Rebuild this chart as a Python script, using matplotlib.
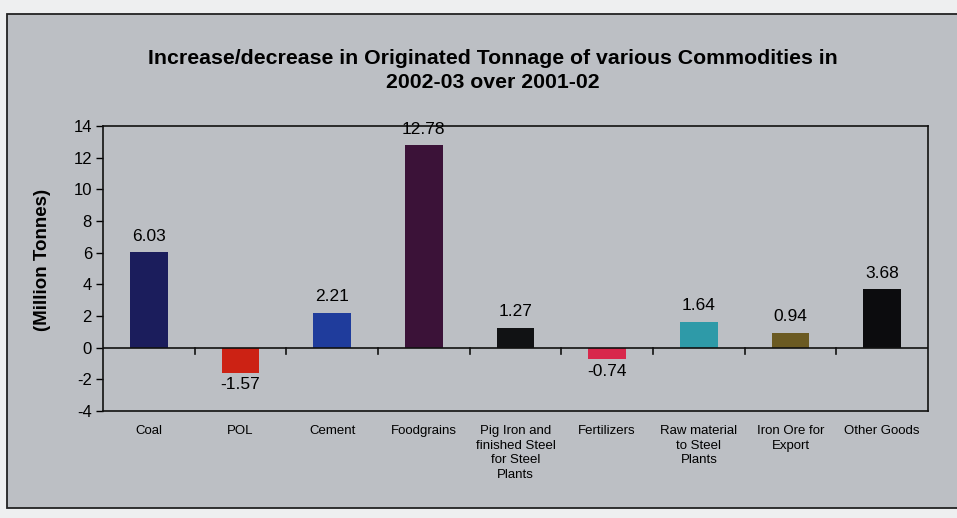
import matplotlib
matplotlib.use("Agg")
import matplotlib.pyplot as plt
from matplotlib.patches import Rectangle

categories = ["Coal", "POL", "Cement", "Foodgrains",
              "Pig Iron and\nfinished Steel\nfor Steel\nPlants",
              "Fertilizers", "Raw material\nto Steel\nPlants",
              "Iron Ore for\nExport", "Other Goods"]
values = [6.03, -1.57, 2.21, 12.78, 1.27, -0.74, 1.64, 0.94, 3.68]
value_labels = ["6.03", "-1.57", "2.21", "12.78", "1.27", "-0.74", "1.64", "0.94", "3.68"]
colors = ["#1b1d5c", "#cc2214", "#1f3c9c", "#3b1238", "#111214",
          "#d8284c", "#2e9aa8", "#6b5a22", "#0c0c0e"]
yticks = [-4, -2, 0, 2, 4, 6, 8, 10, 12, 14]

W, H = 957, 518
bg = "#bcbfc4"
fig = plt.figure(figsize=(W / 100, H / 100), dpi=100, facecolor="#eeeff0")

# gray panel with dark frame
panel = Rectangle((7 / W, 1 - 508 / H), 1.2, (508 - 14) / H,
                  transform=fig.transFigure, facecolor=bg,
                  edgecolor="#222222", linewidth=1.3, zorder=-10)
fig.add_artist(panel)

ax = fig.add_axes([103 / W, 1 - 411 / H, (928 - 103) / W, (411 - 126) / H])
ax.set_zorder(5)
ax.set_facecolor(bg)

x = list(range(len(categories)))
ax.bar(x, values, width=0.41, color=colors, zorder=2)
ax.set_xlim(-0.5, len(categories) - 0.5)
ax.set_ylim(-4, 14)
ax.set_yticks(yticks)
ax.set_yticklabels([str(t) for t in yticks], fontsize=12, family="Liberation Sans")
ax.tick_params(axis="y", direction="out", length=5, width=1, pad=3)
ax.set_xticks([])
for s in ax.spines.values():
    s.set_linewidth(1.2)
    s.set_color("#111111")

ax.axhline(0, color="#111111", linewidth=1.2, zorder=3)
for b in range(1, len(categories)):
    ax.plot([b - 0.5, b - 0.5], [0, -0.4], color="#111111", linewidth=1.2,
            zorder=3, clip_on=False)

for xi, v, lab in zip(x, values, value_labels):
    if v >= 0:
        ax.annotate(lab, (xi, v), xytext=(0, 6), textcoords="offset points",
                    ha="center", va="bottom", fontsize=12.5, family="Liberation Sans")
    else:
        ax.annotate(lab, (xi, v), xytext=(0, -3), textcoords="offset points",
                    ha="center", va="top", fontsize=12.5, family="Liberation Sans")

for xi, c in zip(x, categories):
    ax.annotate(c, (xi, -4), xytext=(0, -10), textcoords="offset points",
                ha="center", va="top", fontsize=9.5, family="Liberation Sans",
                linespacing=1.3, annotation_clip=False)

ax.set_ylabel("(Million Tonnes)", fontsize=13.5, fontweight="bold",
              family="Liberation Sans")
ax.yaxis.set_label_coords(-0.063, 0.53)

fig.text(0.515, 1 - 59 / H, "Increase/decrease in Originated Tonnage of various Commodities in",
         ha="center", va="center", fontsize=15.3, fontweight="bold", family="Liberation Sans")
fig.text(0.515, 1 - 82 / H, "2002-03 over 2001-02",
         ha="center", va="center", fontsize=15.3, fontweight="bold", family="Liberation Sans")

fig.savefig("out.png", dpi=100, facecolor=fig.get_facecolor())
